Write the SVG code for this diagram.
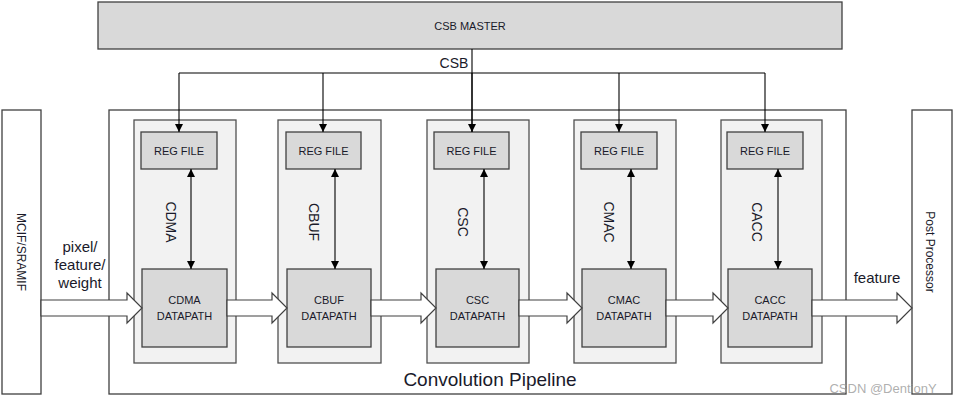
<svg xmlns="http://www.w3.org/2000/svg" width="953" height="404" viewBox="0 0 953 404">
<defs>
<style>
.box{fill:#ffffff;stroke:#404040;stroke-width:1.3}
.stage{fill:#f2f2f2;stroke:#505050;stroke-width:1.3}
.blk{fill:#d9d9d9;stroke:#404040;stroke-width:1.3}
.t{font-family:"Liberation Sans",Arial,sans-serif;fill:#1a1a2a}
.s11{font-size:11px}
.s12{font-size:12px}
.s14{font-size:14px}
.s15{font-size:15px}
.line{fill:none;stroke:#000000;stroke-width:1.1}
.barrow{fill:#ffffff;stroke:#404040;stroke-width:1.2;stroke-linejoin:miter}
</style>
<marker id="ah" viewBox="0 0 10 10" refX="10" refY="5" markerWidth="8" markerHeight="9" markerUnits="userSpaceOnUse" orient="auto-start-reverse">
<path d="M0,0 L10,5 L0,10 Z" fill="#000"/>
</marker>
</defs>
<rect width="953" height="404" fill="#ffffff"/>

<g id="csb-master">
<rect class="blk" x="98" y="2" width="744" height="47"/>
<text class="t s11" x="470" y="30" text-anchor="middle">CSB MASTER</text>
</g>

<g id="mcif">
<rect class="box" x="2" y="110" width="39" height="284"/>
<text class="t s12" transform="translate(17,252) rotate(90)" text-anchor="middle">MCIF/SRAMIF</text>
</g>

<g id="post-processor">
<rect class="box" x="912" y="110" width="40" height="284"/>
<text class="t s12" transform="translate(926,252) rotate(90)" text-anchor="middle">Post Processor</text>
</g>

<g id="convolution-pipeline">
<rect class="box" x="109" y="110" width="737" height="284"/>
<text class="t" x="490" y="386" text-anchor="middle" font-size="19">Convolution Pipeline</text>
</g>

<g id="cdma">
<rect class="stage" x="134" y="120" width="102" height="243"/>
<rect class="blk" x="141" y="132" width="76" height="37"/>
<text class="t s11" x="179" y="155" text-anchor="middle">REG FILE</text>
<text class="t s14" transform="translate(166,222) rotate(90)" text-anchor="middle">CDMA</text>
<rect class="blk" x="142" y="269" width="85" height="78"/>
<text class="t s11" x="184.5" y="304" text-anchor="middle">CDMA</text>
<text class="t s11" x="184.5" y="320" text-anchor="middle">DATAPATH</text>
</g>

<g id="cbuf">
<rect class="stage" x="278" y="120" width="103" height="243"/>
<rect class="blk" x="286" y="132" width="75" height="37"/>
<text class="t s11" x="323.5" y="155" text-anchor="middle">REG FILE</text>
<text class="t s14" transform="translate(309,222) rotate(90)" text-anchor="middle">CBUF</text>
<rect class="blk" x="287" y="269" width="84" height="78"/>
<text class="t s11" x="329" y="304" text-anchor="middle">CBUF</text>
<text class="t s11" x="329" y="320" text-anchor="middle">DATAPATH</text>
</g>

<g id="csc">
<rect class="stage" x="427" y="120" width="102" height="243"/>
<rect class="blk" x="434" y="132" width="75" height="37"/>
<text class="t s11" x="471.5" y="155" text-anchor="middle">REG FILE</text>
<text class="t s14" transform="translate(458,222) rotate(90)" text-anchor="middle">CSC</text>
<rect class="blk" x="436" y="269" width="83" height="78"/>
<text class="t s11" x="477.5" y="304" text-anchor="middle">CSC</text>
<text class="t s11" x="477.5" y="320" text-anchor="middle">DATAPATH</text>
</g>

<g id="cmac">
<rect class="stage" x="574" y="120" width="102" height="243"/>
<rect class="blk" x="581" y="132" width="76" height="37"/>
<text class="t s11" x="619" y="155" text-anchor="middle">REG FILE</text>
<text class="t s14" transform="translate(604,222) rotate(90)" text-anchor="middle">CMAC</text>
<rect class="blk" x="582" y="269" width="84" height="78"/>
<text class="t s11" x="624" y="304" text-anchor="middle">CMAC</text>
<text class="t s11" x="624" y="320" text-anchor="middle">DATAPATH</text>
</g>

<g id="cacc">
<rect class="stage" x="721" y="120" width="101" height="243"/>
<rect class="blk" x="727" y="132" width="76" height="37"/>
<text class="t s11" x="765" y="155" text-anchor="middle">REG FILE</text>
<text class="t s14" transform="translate(752,222) rotate(90)" text-anchor="middle">CACC</text>
<rect class="blk" x="728" y="269" width="84" height="78"/>
<text class="t s11" x="770" y="304" text-anchor="middle">CACC</text>
<text class="t s11" x="770" y="320" text-anchor="middle">DATAPATH</text>
</g>

<g id="connectors">
<path class="line" d="M472,49 V132"/>
<path class="line" d="M179,73 H765"/>
<path class="line" d="M179,73 V132" marker-end="url(#ah)"/>
<path class="line" d="M323,73 V132" marker-end="url(#ah)"/>
<path class="line" d="M472,73 V132" marker-end="url(#ah)"/>
<path class="line" d="M619,73 V132" marker-end="url(#ah)"/>
<path class="line" d="M765,73 V132" marker-end="url(#ah)"/>
<text class="t s14" x="454" y="68" text-anchor="middle">CSB</text>

<path class="line" d="M191,169 V269" marker-start="url(#ah)" marker-end="url(#ah)"/>
<path class="line" d="M335,169 V269" marker-start="url(#ah)" marker-end="url(#ah)"/>
<path class="line" d="M484,169 V269" marker-start="url(#ah)" marker-end="url(#ah)"/>
<path class="line" d="M631,169 V269" marker-start="url(#ah)" marker-end="url(#ah)"/>
<path class="line" d="M778,169 V269" marker-start="url(#ah)" marker-end="url(#ah)"/>

<path class="barrow" d="M41,300 H127 V293 L142,308 L127,323 V316 H41 Z"/>
<path class="barrow" d="M227,300 H272 V293 L287,308 L272,323 V316 H227 Z"/>
<path class="barrow" d="M371,300 H421 V293 L436,308 L421,323 V316 H371 Z"/>
<path class="barrow" d="M519,300 H567 V293 L582,308 L567,323 V316 H519 Z"/>
<path class="barrow" d="M666,300 H713 V293 L728,308 L713,323 V316 H666 Z"/>
<path class="barrow" d="M812,300 H897 V293 L912,308 L897,323 V316 H812 Z"/>

<text class="t s15" x="80" y="252" text-anchor="middle">pixel/</text>
<text class="t s15" x="80" y="270" text-anchor="middle">feature/</text>
<text class="t s15" x="80" y="288" text-anchor="middle">weight</text>
<text class="t s15" x="877" y="283" text-anchor="middle">feature</text>
</g>

<text x="883" y="393" text-anchor="middle" font-family="Liberation Sans,Arial,sans-serif" font-size="13" fill="#9a9a9a" fill-opacity="0.8">CSDN @DentionY</text>
</svg>
